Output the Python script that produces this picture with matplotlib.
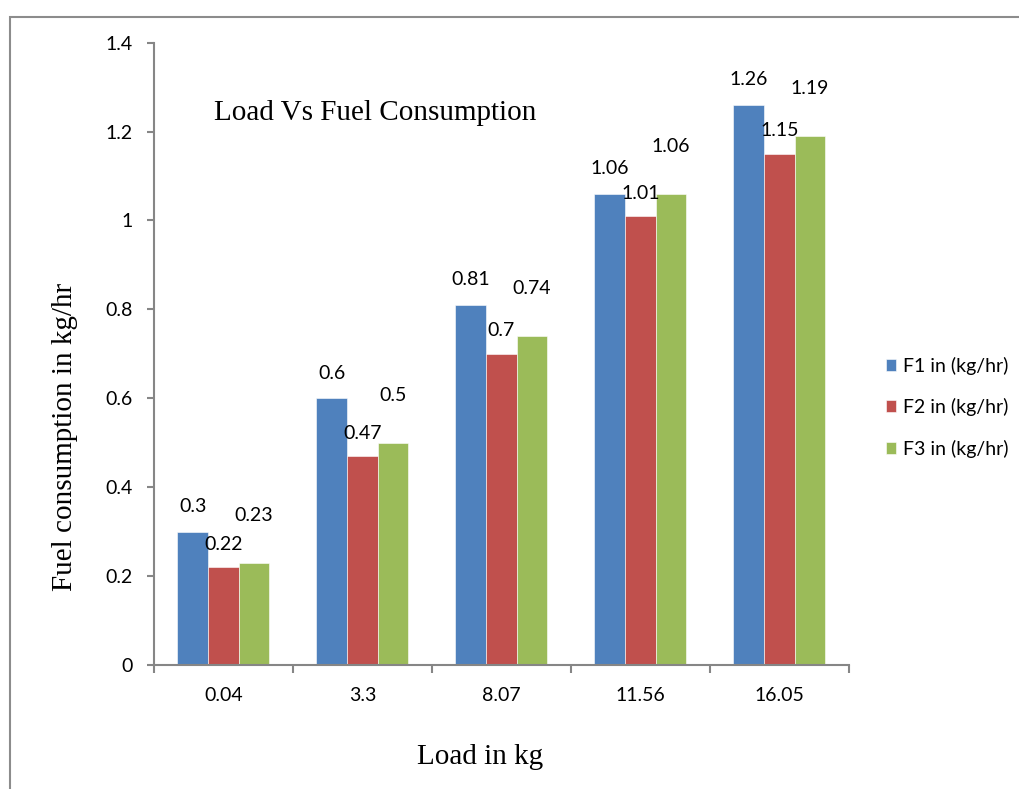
import numpy as np
import matplotlib.pyplot as plt
from matplotlib.patches import Rectangle

# data
loads = ["0.04", "3.3", "8.07", "11.56", "16.05"]
f1 = [0.3, 0.6, 0.81, 1.06, 1.26]
f2 = [0.22, 0.47, 0.7, 1.01, 1.15]
f3 = [0.23, 0.5, 0.74, 1.06, 1.19]
series_names = ["F1 in (kg/hr)", "F2 in (kg/hr)", "F3 in (kg/hr)"]
colors = ["#4F81BD", "#C0504D", "#9BBB59"]

tick_font = "Lato"
serif_font = "Liberation Serif"
fs = 14

fig = plt.figure(figsize=(10.19, 7.89), dpi=100)
ax = fig.add_axes([0.151, 0.157, 0.682, 0.789])

# outer chart border (cut off on right and bottom like the picture)
fig.patches.append(Rectangle((10 / 1019, -0.05), 1.1, 1 - 17 / 789 + 0.05,
                             transform=fig.transFigure, fill=False,
                             edgecolor="#8c8c8c", linewidth=1.5))

x = np.arange(len(loads))
w = 0.22
for i, vals in enumerate([f1, f2, f3]):
    ax.bar(x + (i - 1) * w, vals, w, color=colors[i], label=series_names[i],
           edgecolor="white", linewidth=0.4)

# data labels (excel-style, green ones lifted higher)
offsets = [18, 16.5, 34]
for i, vals in enumerate([f1, f2, f3]):
    for j in range(len(loads)):
        ax.annotate(str(vals[j]), (x[j] + (i - 1) * w, vals[j]), xytext=(0, offsets[i]),
                    textcoords="offset points", ha="center", va="center",
                    fontsize=fs, family=tick_font)

ax.set_xlim(-0.5, len(loads) - 0.5)
ax.set_ylim(0, 1.4)
ax.set_yticks(np.arange(0, 1.41, 0.2))
ax.set_yticklabels(["0", "0.2", "0.4", "0.6", "0.8", "1", "1.2", "1.4"])

# category ticks at boundaries, labels centred
ax.set_xticks(np.arange(len(loads) + 1) - 0.5)
ax.set_xticklabels([])
ax.set_xticks(x, minor=True)
ax.set_xticklabels(loads, minor=True)
ax.tick_params(axis="x", which="minor", length=0, pad=16)
ax.tick_params(axis="x", which="major", length=6, width=1.5, color="#868686")
ax.tick_params(axis="y", length=5, width=1.5, color="#868686", pad=10)
for lab in ax.get_xticklabels(minor=True) + ax.get_yticklabels():
    lab.set_fontfamily(tick_font)
    lab.set_fontsize(fs)

for s in ["top", "right"]:
    ax.spines[s].set_visible(False)
for s in ["left", "bottom"]:
    ax.spines[s].set_color("#868686")
    ax.spines[s].set_linewidth(1.5)

ax.text(0.087, 0.8875, "Load Vs Fuel Consumption", transform=ax.transAxes,
        fontsize=21, family=serif_font, va="center", ha="left")
fig.text(0.064, 0.446, "Fuel consumption in kg/hr", rotation=90, fontsize=21,
         family=serif_font, ha="center", va="center")
fig.text(0.471, 0.04, "Load in kg", fontsize=21, family=serif_font,
         ha="center", va="center")

fig.legend(loc="center left", bbox_to_anchor=(0.869, 0.484), frameon=False,
           prop={"family": tick_font, "size": fs}, handlelength=0.55, handleheight=0.55,
           handletextpad=0.35, labelspacing=1.2, borderpad=0, borderaxespad=0)

fig.savefig("out.png", dpi=100)
